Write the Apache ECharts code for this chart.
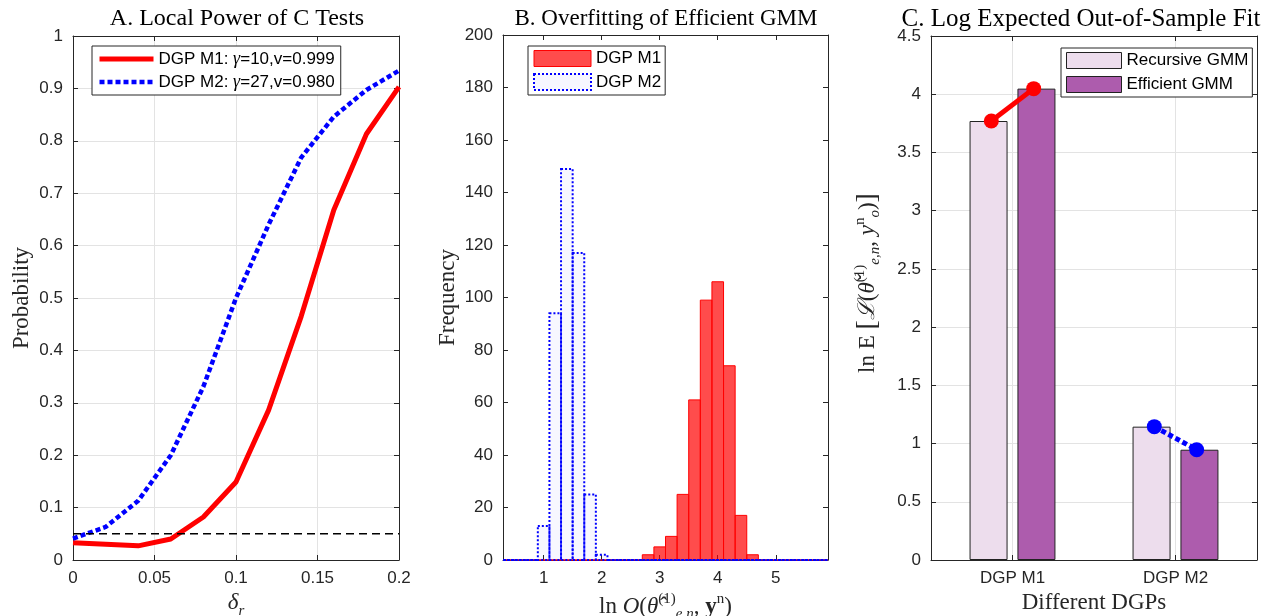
<!DOCTYPE html>
<html><head><meta charset="utf-8">
<script src="https://cdn.jsdelivr.net/npm/echarts/dist/echarts.min.js"></script>
<style>html,body{margin:0;padding:0;background:#fff}#c{width:1276px;height:616px}</style>
</head><body><div id="c"></div>
<script>
// ---------- Panel A: local power of C tests ----------
const deltaR   = [0, 0.02, 0.04, 0.06, 0.08, 0.10, 0.12, 0.14, 0.16, 0.18, 0.20];
const powerM1  = [0.033, 0.030, 0.027, 0.040, 0.082, 0.149, 0.286, 0.465, 0.668, 0.813, 0.903];
const powerM2  = [0.041, 0.063, 0.113, 0.200, 0.331, 0.500, 0.640, 0.768, 0.846, 0.897, 0.934];
const sizeLevel = 0.05;
const nameA1 = 'DGP M1: γ=10,v=0.999';
const nameA2 = 'DGP M2: γ=27,v=0.980';

// ---------- Panel B: histogram of ln O ----------
const binStart = 0.3;
const binWidth = 0.2;
//                 0.4 0.6 0.8 1.0 1.2 1.4 1.6 1.8 2.0 2.2 2.4 2.6 2.8 3.0 3.2 3.4 3.6 3.8 4.0 4.2 4.4 4.6 4.8 5.0 5.2 5.4 5.6 5.8
const countsM1 = [  0,  0,  0,  0,  0,  0,  0,  0,  0,  0,  0,  0,  2,  5,  9, 25, 61, 99,106, 74, 17,  2,  0,  0,  0,  0,  0,  0];
const countsM2 = [  0,  0,  0, 13, 94,149,117, 25,  2,  0,  0,  0,  0,  0,  0,  0,  0,  0,  0,  0,  0,  0,  0,  0,  0,  0,  0,  0];

// ---------- Panel C: log expected out-of-sample fit ----------
const dgpNames     = ['DGP M1', 'DGP M2'];
const recursiveFit = [3.77, 1.145];
const efficientFit = [4.048, 0.947];

// ---------- styling / layout ----------
const AX = '#262626', GRIDC = '#e3e3e3';
const SANS = 'Liberation Sans', SERIF = 'Liberation Serif';
const markerOffset = 0.13;

function ax(o) {
  const base = {
    axisLine: {show: true, onZero: false, lineStyle: {color: AX, width: 1}},
    axisTick: {show: true, inside: true, length: 5, lineStyle: {color: AX}},
    axisLabel: {color: AX, fontSize: 17, fontFamily: SANS, margin: 10},
    splitLine: {show: false}
  };
  for (const k in o) {
    if (base[k] && typeof o[k] === 'object' && !Array.isArray(o[k])) base[k] = Object.assign({}, base[k], o[k]);
    else base[k] = o[k];
  }
  return base;
}
function mirror(o) { return ax(Object.assign({axisLabel: {show: false}}, o)); }

const binData = arr => arr.map((v, i) => [binStart + binWidth * (i + 0.5), v]);
function histItem(fill, stroke, lw, dash) {
  return function (params, api) {
    const c = api.value(0), v = api.value(1);
    const p0 = api.coord([c - binWidth / 2, v]);
    const p1 = api.coord([c + binWidth / 2, 0]);
    return {type: 'rect',
      shape: {x: p0[0], y: p0[1], width: p1[0] - p0[0], height: p1[1] - p0[1]},
      style: {fill: fill, stroke: stroke, lineWidth: lw, lineDash: dash}};
  };
}

const titleStyle = {fontFamily: SERIF, fontSize: 23, fontWeight: 'normal', color: '#000'};
const nameStyle = {fontFamily: SERIF, fontSize: 23, color: AX};
const mathRich = {
  n: {fontFamily: SERIF, fontSize: 23, color: AX, lineHeight: 30},
  i: {fontFamily: SERIF, fontStyle: 'italic', fontSize: 23, color: AX, lineHeight: 30},
  b: {fontFamily: SERIF, fontSize: 28, color: AX, lineHeight: 30},
  bo: {fontFamily: SERIF, fontWeight: 'bold', fontSize: 23, color: AX, lineHeight: 30},
  sup: {fontFamily: SERIF, fontSize: 15, color: AX, lineHeight: 15, verticalAlign: 'top'},
  sub: {fontFamily: SERIF, fontStyle: 'italic', fontSize: 15, color: AX, lineHeight: 15, verticalAlign: 'bottom'}
};

const option = {
  backgroundColor: '#fff',
  animation: false,
  title: [
    {text: 'A. Local Power of C Tests', left: 232, top: 2, textAlign: 'center', textStyle: Object.assign({}, titleStyle, {fontSize: 24})},
    {text: 'B. Overfitting of Efficient GMM', left: 661, top: 2, textAlign: 'center', textStyle: titleStyle},
    {text: 'C. Log Expected Out-of-Sample Fit', left: 1076, top: 2, textAlign: 'center', textStyle: Object.assign({}, titleStyle, {fontSize: 25})}
  ],
  grid: [
    {left: 73, top: 36, width: 326, height: 524, outerBoundsMode: 'none', containLabel: false},
    {left: 503, top: 35, width: 325, height: 525, outerBoundsMode: 'none', containLabel: false},
    {left: 931, top: 36, width: 326, height: 524, outerBoundsMode: 'none', containLabel: false}
  ],
  legend: [
    {data: [
       {name: nameA1, itemStyle: {opacity: 0}, lineStyle: {color: '#ff0000', width: 5, type: 'solid'}},
       {name: nameA2, itemStyle: {opacity: 0}, lineStyle: {color: '#0000ff', width: 4.5, type: [5, 3]}}],
     left: 92, top: 46, orient: 'vertical',
     itemWidth: 54, itemHeight: 12, itemGap: 5, padding: [4, 6, 4, 5],
     backgroundColor: '#fff', borderColor: AX, borderWidth: 1, borderRadius: 0,
     formatter: n => n.replace(/^(DGP M\d: )γ(.*)$/, '{a|$1}{g|γ}{a|$2}'),
     textStyle: {fontSize: 17, fontFamily: SANS, color: '#000',
       rich: {a: {fontSize: 17, fontFamily: SANS, color: '#000'},
              g: {fontSize: 18, fontFamily: SERIF, fontStyle: 'italic', color: '#000'}}}},
    {data: [
       {name: 'DGP M1', icon: 'rect', itemStyle: {color: 'rgba(255,0,0,0.7)', borderColor: '#ff0000', borderWidth: 1}},
       {name: 'DGP M2', icon: 'rect', itemStyle: {color: 'rgba(0,0,255,0.03)', borderColor: '#0000ff', borderWidth: 2, borderType: [2, 2]}}],
     left: 528, top: 46, orient: 'vertical', itemWidth: 57, itemHeight: 16, itemGap: 6,
     padding: [4, 4, 4, 5], backgroundColor: '#fff', borderColor: AX, borderWidth: 1,
     textStyle: {fontSize: 17, fontFamily: SANS, color: '#000'}},
    {data: [
       {name: 'Recursive GMM', icon: 'rect', itemStyle: {color: '#eddded', borderColor: '#222', borderWidth: 1}},
       {name: 'Efficient GMM', icon: 'rect', itemStyle: {color: '#ad5cad', borderColor: '#222', borderWidth: 1}}],
     left: 1061, top: 48, orient: 'vertical', itemWidth: 55, itemHeight: 16, itemGap: 7,
     padding: [4, 4, 4, 5], backgroundColor: '#fff', borderColor: AX, borderWidth: 1,
     textStyle: {fontSize: 17, fontFamily: SANS, color: '#000'}}
  ],
  xAxis: [
    ax({type: 'value', gridIndex: 0, position: 'bottom', min: 0, max: 0.2, interval: 0.05,
        splitLine: {show: true, lineStyle: {color: GRIDC}},
        name: '{i|δ}{sub|r}', nameLocation: 'middle', nameGap: 23,
        nameTextStyle: {rich: mathRich}}),
    mirror({type: 'value', gridIndex: 0, position: 'top', min: 0, max: 0.2, interval: 0.05}),
    ax({type: 'value', gridIndex: 1, position: 'bottom', min: 0.3, max: 5.9, splitNumber: 5,
        axisLabel: {showMinLabel: false, showMaxLabel: false, formatter: v => Number.isInteger(v) ? String(v) : ''},
        name: '{n|ln }{i|O}{n|(}{i|θ\u0302}{sup|(1)}{sub|e,n}{n|, }{bo|y}{sup|n}{n|)}', nameLocation: 'middle', nameGap: 30,
        nameTextStyle: {rich: mathRich}}),
    mirror({type: 'value', gridIndex: 1, position: 'top', min: 0.3, max: 5.9, splitNumber: 5}),
    ax({type: 'category', gridIndex: 2, position: 'bottom', data: dgpNames,
        axisTick: {alignWithLabel: true},
        splitLine: {show: true, alignWithLabel: true, lineStyle: {color: GRIDC}},
        name: 'Different DGPs', nameLocation: 'middle', nameGap: 30, nameTextStyle: nameStyle}),
    mirror({type: 'category', gridIndex: 2, position: 'top', data: dgpNames, axisTick: {alignWithLabel: true}}),
    {type: 'value', gridIndex: 2, show: false, min: 0.5, max: 2.5}
  ],
  yAxis: [
    ax({type: 'value', gridIndex: 0, position: 'left', min: 0, max: 1, interval: 0.1,
        splitLine: {show: true, lineStyle: {color: GRIDC}},
        name: 'Probability', nameLocation: 'middle', nameGap: 40, nameTextStyle: nameStyle}),
    mirror({type: 'value', gridIndex: 0, position: 'right', min: 0, max: 1, interval: 0.1}),
    ax({type: 'value', gridIndex: 1, position: 'left', min: 0, max: 200, interval: 20,
        name: 'Frequency', nameLocation: 'middle', nameGap: 44, nameTextStyle: nameStyle}),
    mirror({type: 'value', gridIndex: 1, position: 'right', min: 0, max: 200, interval: 20}),
    ax({type: 'value', gridIndex: 2, position: 'left', min: 0, max: 4.5, interval: 0.5,
        splitLine: {show: true, lineStyle: {color: GRIDC}},
        name: '{n|ln E }{b|[}{i|ℒ}{n|(}{i|θ\u030C}{sup|(1)}{sub|e,n}{n|, }{i|y}{sup|n}{sub|o}{n|)}{b|]}',
        nameLocation: 'middle', nameGap: 48, nameTextStyle: {rich: mathRich, padding: [0, 0, 0, 30]}}),
    mirror({type: 'value', gridIndex: 2, position: 'right', min: 0, max: 4.5, interval: 0.5})
  ],
  series: [
    {name: nameA1, type: 'line', xAxisIndex: 0, yAxisIndex: 0, symbol: 'none', color: '#ff0000',
     lineStyle: {color: '#ff0000', width: 5}, data: deltaR.map((x, i) => [x, powerM1[i]]), z: 3},
    {name: nameA2, type: 'line', xAxisIndex: 0, yAxisIndex: 0, symbol: 'none', color: '#0000ff',
     lineStyle: {color: '#0000ff', width: 4.5, type: [5, 3], cap: 'butt'}, data: deltaR.map((x, i) => [x, powerM2[i]]), z: 3},
    {name: 'size', type: 'line', xAxisIndex: 0, yAxisIndex: 0, symbol: 'none', silent: true,
     lineStyle: {color: '#000', width: 1.5, type: [8, 5]},
     data: [[deltaR[0], sizeLevel], [deltaR[deltaR.length - 1], sizeLevel]], z: 4},

    {name: 'DGP M1', type: 'custom', xAxisIndex: 2, yAxisIndex: 2, color: 'rgba(255,0,0,0.7)',
     renderItem: histItem('rgba(255,0,0,0.7)', '#ff0000', 1, null), data: binData(countsM1), z: 2},
    {name: 'DGP M2', type: 'custom', xAxisIndex: 2, yAxisIndex: 2, color: 'rgba(0,0,255,0.03)',
     renderItem: histItem('rgba(0,0,255,0.03)', '#0000ff', 2, [2, 2]), data: binData(countsM2), z: 3},

    {name: 'Recursive GMM', type: 'bar', xAxisIndex: 4, yAxisIndex: 4, barWidth: 38, barGap: '26%',
     itemStyle: {color: '#eddded', borderColor: '#222', borderWidth: 1}, data: recursiveFit},
    {name: 'Efficient GMM', type: 'bar', xAxisIndex: 4, yAxisIndex: 4, barWidth: 38, barGap: '26%',
     itemStyle: {color: '#ad5cad', borderColor: '#222', borderWidth: 1}, data: efficientFit},
    {name: 'fitM1', type: 'line', xAxisIndex: 6, yAxisIndex: 4, symbol: 'circle', symbolSize: 15,
     color: '#ff0000', lineStyle: {color: '#ff0000', width: 5}, itemStyle: {color: '#ff0000'},
     data: [[1 - markerOffset, recursiveFit[0]], [1 + markerOffset, efficientFit[0]]], z: 5},
    {name: 'fitM2', type: 'line', xAxisIndex: 6, yAxisIndex: 4, symbol: 'circle', symbolSize: 15,
     color: '#0000ff', lineStyle: {color: '#0000ff', width: 5, type: [5, 3]}, itemStyle: {color: '#0000ff'},
     data: [[2 - markerOffset, recursiveFit[1]], [2 + markerOffset, efficientFit[1]]], z: 5}
  ]
};
const chart = echarts.init(document.getElementById('c'), null, {renderer: 'canvas'});
chart.setOption(option);
</script>
</body></html>
